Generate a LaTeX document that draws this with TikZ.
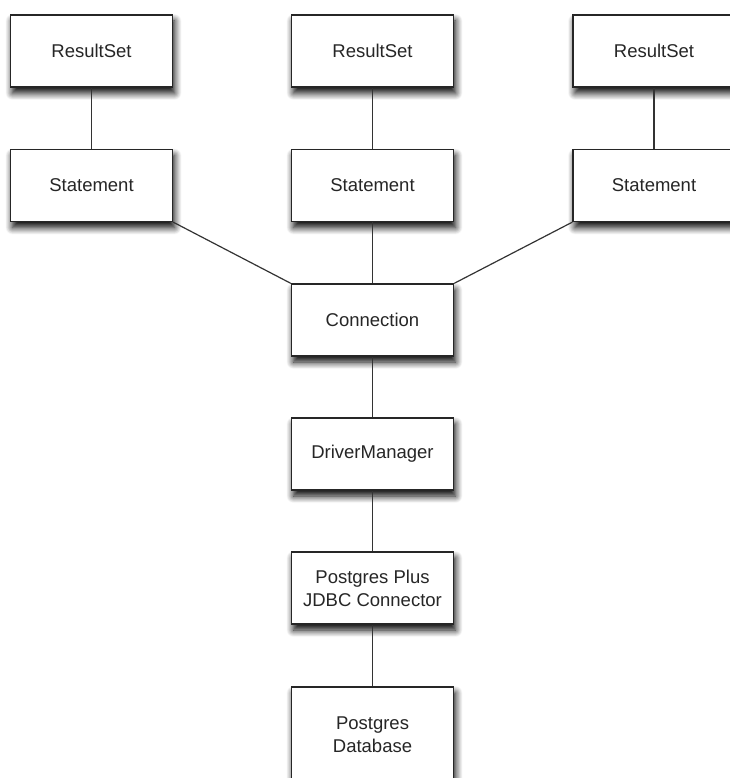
\documentclass[tikz,border=0pt]{standalone}
\usepackage{fontspec}
\setmainfont{Liberation Sans}
\usetikzlibrary{shadows.blur}
\begin{document}
\begin{tikzpicture}[x=1pt,y=-1pt,
  box/.style={draw=black!85, line width=1.2pt, fill=white, minimum width=162pt, minimum height=72pt,
    inner sep=0pt, align=center, font=\fontsize{18.5}{23}\selectfont, text=black!85,
    blur shadow={shadow xshift=2pt, shadow yshift=-6pt, shadow blur steps=12, shadow blur radius=7pt, shadow opacity=100}},
  link/.style={draw=black!80, line width=1.2pt}]
\useasboundingbox (0,0) rectangle (729,778);
% nodes
\node[box] (rs1) at (91.5,51) {ResultSet};
\node[box] (rs2) at (372.5,51) {ResultSet};
\node[box] (rs3) at (654,51) {ResultSet};
\node[box] (st1) at (91.5,185.5) {Statement};
\node[box] (st2) at (372.5,185.5) {Statement};
\node[box] (st3) at (654,185.5) {Statement};
\node[box] (con) at (372.5,320) {Connection};
\node[box] (dm) at (372.5,454) {DriverManager};
\node[box] (pp) at (372.5,588) {Postgres Plus\\JDBC Connector};
\node[box, minimum height=96pt] (db) at (372.5,735) {Postgres\\Database};
% connectors
\draw[link] (rs1.south) -- (st1.north);
\draw[link] (rs2.south) -- (st2.north);
\draw[link] (rs3.south) -- (st3.north);
\draw[link] (st1.south east) -- (con.north west);
\draw[link] (st2.south) -- (con.north);
\draw[link] (st3.south west) -- (con.north east);
\draw[link] (con.south) -- (dm.north);
\draw[link] (dm.south) -- (pp.north);
\draw[link] (pp.south) -- (db.north);
\end{tikzpicture}
\end{document}
